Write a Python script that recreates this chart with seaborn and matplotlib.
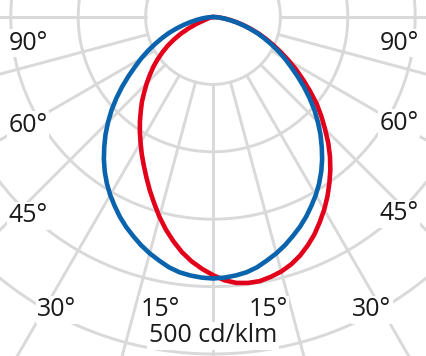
import numpy as np
import pandas as pd
import matplotlib
matplotlib.use("Agg")
import matplotlib.pyplot as plt
import seaborn as sns

# ---- data, gamma angle -90..90 deg in 2.5 deg steps ----
angles_deg = [-90 + 2.5 * i for i in range(73)]
blue_cd = [0, 4, 9, 16, 24, 34, 45, 57, 70, 82, 95, 109, 123, 137, 153, 170, 187, 204,
           220, 236, 251, 266, 280, 293, 305, 316, 327, 337, 346, 355, 363, 370, 377, 382,
           385, 387,
           388,
           387, 385, 382, 377, 370, 363, 355, 346, 337, 327, 316, 305, 293, 280, 266, 251,
           236, 220, 204, 187, 170, 153, 137, 123, 109, 95, 82, 70, 57, 45, 34, 24, 16, 9,
           4, 0]
red_cd = [0, 0, 1, 2, 3, 4, 6, 9, 14, 27, 40, 54, 67, 80, 92, 104, 116, 127,
          139, 151, 164, 176, 189, 202, 215, 229, 243, 258, 274, 290, 307, 323, 338, 352,
          364, 374,
          383,
          391, 396, 398, 398, 395, 391, 385, 377, 367, 356, 343, 330, 316, 301, 286, 270,
          253, 235, 218, 201, 182, 164, 147, 130, 114, 99, 85, 72, 59, 47, 36, 26, 18, 10,
          5, 0]
ring_values = [100, 200, 300, 400, 500, 600]
spoke_angles = list(range(0, 360, 15))
scale_label = "500 cd/klm"
angle_labels = [("90°", 28, 43), ("90°", 399, 43),
                ("60°", 28, 125), ("60°", 399, 123),
                ("45°", 28, 216), ("45°", 399, 214),
                ("30°", 57, 310), ("30°", 372, 310),
                ("15°", 160, 310), ("15°", 268, 310)]

sns.set_theme(style="white")
plt.rcParams["font.family"] = ["Open Sans", "DejaVu Sans"]

W, H = 427, 356
fig = plt.figure(figsize=(W / 100, H / 100), dpi=100)
fig.patch.set_facecolor("white")

# polar axes: origin at (213, 17) px from top, 67.4 px per 100 cd/klm
cx, cy = 213, H - 17
rpx = 6 * 67.4
ax = fig.add_axes([(cx - rpx) / W, (cy - rpx) / H, 2 * rpx / W, 2 * rpx / H],
                  projection="polar")
ax.set_theta_zero_location("S")
ax.set_theta_direction(1)
ax.set_ylim(0, 600)
ax.grid(False)
ax.set_xticks([])
ax.set_yticks([])
ax.spines["polar"].set_visible(False)
ax.set_facecolor("none")

grid_col = "#d9d9d9"
full = np.linspace(0, 2 * np.pi, 721)
for rv in ring_values:
    ax.plot(full, np.full_like(full, rv), color=grid_col, lw=2.1, zorder=1)
for a in spoke_angles:
    t = np.deg2rad(a)
    ax.plot([t, t], [100, 600], color=grid_col, lw=2.1, zorder=1)

theta = np.deg2rad(angles_deg)
df = pd.DataFrame({"theta": np.concatenate([theta, theta]),
                   "cd": np.concatenate([red_cd, blue_cd]),
                   "plane": ["C0-C180"] * len(theta) + ["C90-C270"] * len(theta)})
sns.lineplot(data=df, x="theta", y="cd", hue="plane", sort=False, estimator=None,
             palette={"C0-C180": "#e2001a", "C90-C270": "#0a64ad"},
             lw=3.3, ax=ax, legend=False, zorder=3,
             solid_joinstyle="round", solid_capstyle="round")
ax.set_xlabel("")
ax.set_ylabel("")
ax.set_ylim(0, 600)

for txt, x, y in angle_labels:
    fig.text(x / W, 1 - y / H, txt, ha="center", va="center", fontsize=18,
             color="#1a1a1a", bbox=dict(facecolor="white", edgecolor="none", pad=1.0))
fig.text(213 / W, 1 - 336 / H, scale_label, ha="center", va="center", fontsize=18,
         color="#1a1a1a", bbox=dict(facecolor="white", edgecolor="none", pad=1.0))

fig.savefig("out.png", dpi=100, facecolor="white")
